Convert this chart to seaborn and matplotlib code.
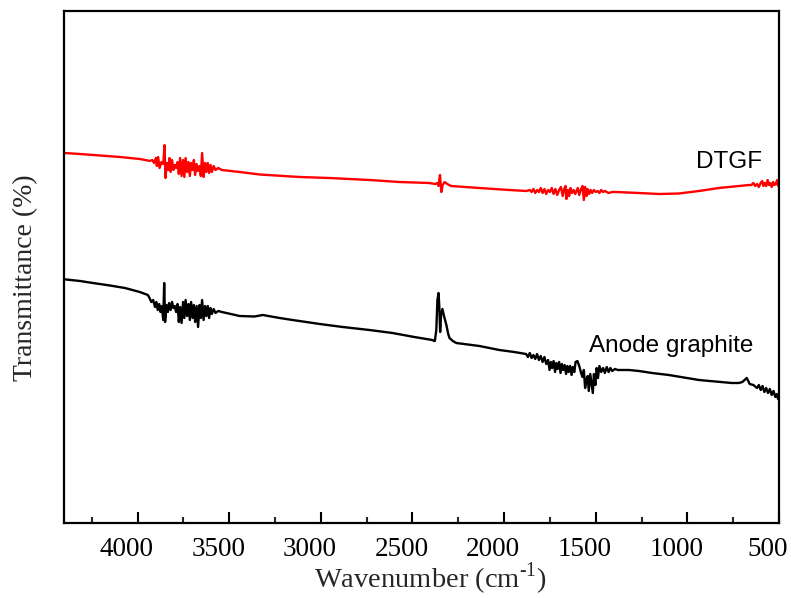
import numpy as np
import pandas as pd
import matplotlib
matplotlib.use("Agg")
import matplotlib.pyplot as plt
import seaborn as sns
from matplotlib.transforms import ScaledTranslation

# ---- data (wavenumber in cm-1, transmittance in arbitrary units) ----
dtgf_wn = [4400, 4314, 4205, 4096, 3988, 3944,
           3935, 3920, 3910, 3900, 3895, 3888, 3880, 3870, 3860, 3853, 3848, 3840,
           3832, 3826, 3820, 3812, 3805, 3797, 3790, 3782, 3775, 3768, 3760, 3752,
           3745, 3738, 3730, 3722, 3715, 3708, 3700, 3693, 3686, 3678, 3670, 3662,
           3655, 3648, 3640, 3632, 3625, 3617, 3610, 3602, 3595, 3585, 3575, 3560, 3540,
           3443, 3334, 3116, 2953, 2735, 2572, 2409, 2376,
           2365, 2358, 2350, 2343, 2335, 2325, 2310, 2290,
           2135, 1971, 1879,
           1860, 1850, 1840, 1830, 1820, 1810, 1800, 1790, 1780, 1770, 1760, 1750,
           1740, 1730, 1720, 1710, 1700, 1690, 1680, 1672, 1665, 1660, 1652, 1645,
           1638, 1630, 1620, 1612, 1605, 1598, 1590, 1580, 1572, 1565, 1558, 1550,
           1544, 1536, 1528, 1520, 1510, 1500, 1490, 1480, 1470, 1460, 1450, 1430, 1410,
           1388, 1264, 1155, 1046, 937, 828, 719, 664,
           650, 640, 630, 620, 610, 600, 592, 585, 578, 570, 562, 555, 548, 540,
           532, 525, 518, 510, 505, 500]
dtgf_py = [153, 154, 155.5, 157, 159, 160.5,
           161, 160, 163, 158, 166, 157, 168, 162, 164, 145, 178, 163,
           170, 158, 172, 160, 170, 165, 168, 162, 174, 158, 176, 160,
           177, 158, 172, 162, 176, 163, 170, 160, 175, 164, 171, 166,
           176, 153, 177, 163, 172, 163, 173, 165, 172, 166, 170, 168, 170,
           172, 174.5, 177, 178, 180, 182, 183, 184,
           183, 186, 175, 192, 185, 182, 184, 186,
           188, 190, 191,
           190, 192, 189, 193, 190, 192, 188, 193, 189, 194, 190, 192,
           188, 194, 189, 195, 190, 187, 196, 189, 186, 199, 190, 196,
           188, 193, 190, 194, 191, 188, 195, 189, 186, 200, 187, 196,
           189, 194, 190, 193, 190, 192, 191, 193, 190, 192, 191, 193, 192,
           192, 193, 194, 193.5, 191, 188, 186, 185,
           185, 183, 186, 184, 187, 183, 181, 186, 183, 186, 180, 185, 183, 187,
           182, 185, 184, 180, 186, 185]

anode_wn = [4400, 4314, 4244, 4151, 4069, 3988, 3944,
            3935, 3925, 3915, 3905, 3898, 3890, 3882, 3875, 3868, 3860, 3855, 3850,
            3842, 3835, 3828, 3820, 3812, 3805, 3797, 3790, 3782, 3775, 3768, 3760,
            3752, 3745, 3738, 3730, 3722, 3715, 3708, 3700, 3693, 3686, 3678, 3670,
            3662, 3655, 3648, 3640, 3632, 3625, 3617, 3610, 3602, 3595, 3585, 3575,
            3560, 3540,
            3443, 3362, 3317, 3225, 3154, 3006, 2881, 2735, 2609, 2490, 2392, 2381,
            2378, 2370, 2364, 2358, 2354, 2349, 2344, 2337, 2328, 2315, 2305, 2298,
            2280, 2261, 2135, 2026, 1945,
            1880, 1870, 1860, 1850, 1840, 1830, 1820, 1810, 1800, 1790, 1780, 1770,
            1760, 1752, 1745, 1738, 1730, 1722, 1715, 1708, 1700, 1692, 1685, 1678,
            1670, 1662, 1655, 1648, 1640, 1632, 1625, 1617, 1610, 1600, 1590, 1580,
            1572, 1565, 1558, 1550, 1544, 1538, 1530, 1524, 1516, 1510, 1502, 1495,
            1488, 1480, 1470, 1460, 1450, 1440, 1430, 1420, 1410, 1395, 1380,
            1319, 1264, 1193, 1101, 937, 758, 719, 700, 676, 660,
            640, 620, 610, 600, 590, 580, 570, 560, 550, 540, 530, 520, 512, 505, 500]
anode_py = [279.3, 281, 283, 285.5, 288, 292, 295,
            298, 302, 300, 307, 302, 310, 304, 312, 306, 320, 283, 322,
            305, 312, 303, 310, 302, 308, 306, 312, 304, 322, 307, 323,
            302, 318, 300, 316, 304, 320, 302, 318, 305, 322, 306, 327,
            305, 318, 300, 320, 306, 316, 306, 318, 308, 314, 309, 313,
            311, 312,
            316, 316.5, 315, 318, 320, 324, 327, 330, 333, 337, 340, 341,
            341, 330, 300, 293, 305, 332, 315, 309, 316, 325, 334, 338,
            341, 343, 346, 350, 352,
            354, 357, 353, 358, 355, 359, 354, 360, 356, 362, 357, 364,
            360, 370, 362, 368, 361, 372, 363, 369, 362, 373, 364, 370,
            365, 374, 366, 372, 366, 375, 367, 372, 362, 361, 366, 373,
            377, 370, 388, 379, 376, 391, 374, 382, 393, 374, 385, 368,
            378, 366, 372, 368, 373, 367, 372, 368, 371, 369, 370,
            370, 371, 373, 375, 380, 383, 383, 382, 378, 384,
            385, 388, 385, 390, 386, 392, 388, 393, 389, 395, 391, 397, 394, 399, 398]

# convert the read-off pixel heights into arbitrary transmittance units
dtgf_t = [523 - v for v in dtgf_py]
anode_t = [523 - v for v in anode_py]

tick_values = [4000, 3500, 3000, 2500, 2000, 1500, 1000, 500]
minor_tick_values = [4250, 3750, 3250, 2750, 2250, 1750, 1250, 750]

# ---- plot ----
sns.set_style("ticks")
plt.rcParams["font.family"] = ["Liberation Serif", "DejaVu Serif"]
plt.rcParams["mathtext.fontset"] = "custom"
plt.rcParams["mathtext.rm"] = "Liberation Serif"

fig = plt.figure(figsize=(7.91, 5.98), dpi=100)
ax = fig.add_axes([64.3 / 791, 1 - 523 / 598, (779 - 64.3) / 791, (523 - 11) / 598])

sns.lineplot(x=dtgf_wn, y=dtgf_t, ax=ax, color="#ff0000", linewidth=1.7,
             estimator=None, sort=False)
sns.lineplot(x=anode_wn, y=anode_t, ax=ax, color="#000000", linewidth=1.7,
             estimator=None, sort=False)

ax.set_xlim(4400, 500)
ax.set_ylim(0, 512)
ax.set_xticks(tick_values)
ax.set_xticklabels([str(v) for v in tick_values])
ax.set_xticks(minor_tick_values, minor=True)
ax.set_yticks([])

for sp in ax.spines.values():
    sp.set_visible(True)
    sp.set_linewidth(1.6)
    sp.set_color("black")

ax.tick_params(axis="x", which="major", direction="in", length=8, width=1.5,
               labelsize=19.5, pad=10, colors="black")
ax.tick_params(axis="x", which="minor", direction="in", length=4, width=1.5)

# labels sit slightly left of their ticks in the reference
shift = ScaledTranslation(-11 / 100, 0, fig.dpi_scale_trans)
for lab in ax.get_xticklabels():
    lab.set_transform(lab.get_transform() + shift)

ax.set_xlabel(r"Wavenumber (cm$^{\text{-1}}$)", fontsize=20.5, labelpad=-1)
ax.xaxis.label.set_x((430 - 64.3) / 714.7)
ax.set_ylabel("Transmittance (%)", fontsize=20)
ax.yaxis.set_label_coords(-0.037, (523 - 278) / 512)

ax.text(773, 355, "DTGF", fontsize=17.5, family=["Liberation Sans", "DejaVu Sans"],
        ha="center", va="baseline", color="black")
ax.text(1089, 171, "Anode graphite", fontsize=17.5,
        family=["Liberation Sans", "DejaVu Sans"], ha="center", va="baseline",
        color="black")

fig.savefig("out.png", dpi=100)
